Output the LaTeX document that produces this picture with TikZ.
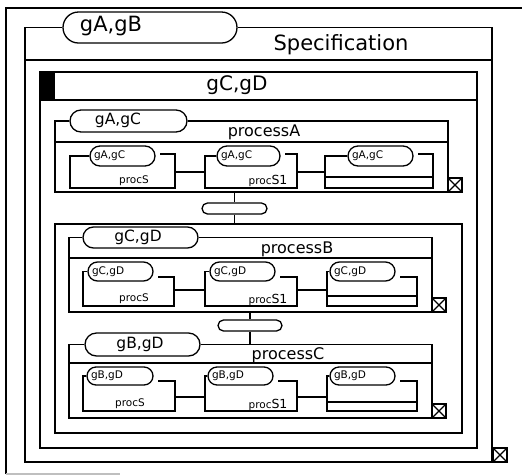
\documentclass[tikz,border=0pt]{standalone}
\usepackage{fontspec}
\setmainfont{DejaVu Sans}
\usetikzlibrary{shapes.misc}
\tikzset{
  pill/.style={draw, rounded rectangle, inner sep=0pt, fill=white},
  xbox/.style={draw, minimum size=14pt, inner sep=0pt, fill=white,
    path picture={\draw (path picture bounding box.south west) -- (path picture bounding box.north east)
                        (path picture bounding box.north west) -- (path picture bounding box.south east);}},
  bigtxt/.style={font=\fontsize{21}{21}\selectfont, inner sep=0pt},
  hdtxt/.style={font=\fontsize{20}{20}\selectfont, inner sep=0pt},
  midtxt/.style={font=\fontsize{16}{16}\selectfont, inner sep=0pt},
  pilltxt/.style={font=\fontsize{15.5}{15.5}\selectfont, inner sep=0pt},
  smalltxt/.style={font=\fontsize{10.5}{10.5}\selectfont, inner sep=0pt},
}
% pill: name, x0, x1, y0, y1
\newcommand\mkpill[5]{%
  \node[pill, minimum width={(#3-#2)*1pt}, minimum height={(#5-#4)*1pt}] (#1) at ({(#2+#3)/2},{(#4+#5)/2}) {};}
% sub process: name, L, R, pill x0, pill x1, label ; uses \rPT \rPB \rBot \rCon \rRT
\newcommand\subproc[6]{%
  \mkpill{#1}{#4}{#5}{\rPT}{\rPB}
  \node[smalltxt, anchor=west] at ([xshift=4pt]#1.west) {#6};
  \draw (#1.west) -- (#2,{(\rPT+\rPB)/2}) -- (#2,\rBot) -- (#3,\rBot) -- (#3,\rRT) -- ({#5+5},\rRT);
  \coordinate (#1-l) at (#2,\rCon);
  \coordinate (#1-r) at (#3,\rCon);}
\begin{document}
\begin{tikzpicture}[x=1pt,y=-1pt, line width=1.3pt, line join=miter]
\useasboundingbox (0,0) rectangle (522,475);
% outer page frame
\coordinate (o1) at (6,474);
\coordinate (o2) at (6,8);
\coordinate (o3) at (522,8);
\draw (o1) -- (o2) -- (o3);
\draw[gray!50] (o1) -- (120,474);

% Specification
\mkpill{pAB}{63}{237}{12}{43}
\node[bigtxt] at (111,26) {gA,gB};
\draw (pAB.west) -- (25,27.5) -- (25,462) -- (492,462) -- (492,27.5) -- (pAB.east);
\draw (25,60) -- (492,60);
\node[bigtxt] at (341,45) {Specification};
\node[xbox] (xS) at (500,455) {};

% gC,gD block
\draw (40,72) rectangle (477,448);
\fill (40,72) rectangle (55,100);
\draw (40,100) -- (477,100);
\node[hdtxt] at (237,85) {gC,gD};

% processA
\mkpill{pAC}{70}{187}{110}{132}
\node[pilltxt] at (118,120) {gA,gC};
\draw (pAC.west) -- (55,121) -- (55,192) -- (448,192) -- (448,121) -- (pAC.east);
\draw (55,142) -- (448,142);
\node[midtxt] at (264,132) {processA};
\node[xbox] (xA) at (455,185) {};
\def\rPT{146}\def\rPB{166}\def\rBot{188}\def\rCon{172}\def\rRT{154}
\subproc{a1}{70}{175}{90}{155}{gA,gC}
\subproc{a2}{205}{297}{217}{280}{gA,gC}
\subproc{a3}{325}{433}{348}{413}{gA,gC}
\draw (325,177) -- (433,177);
\node[smalltxt] at (134,181) {procS};
\node[smalltxt] at (268,181) {proc{\fontsize{12.5}{12.5}\selectfont S1}};
\draw (a1-r) -- (a2-l);
\draw (a2-r) -- (a3-l);

% connector A -> container
\mkpill{c1}{202}{267}{203}{214}
\coordinate (c1t) at (234.5,192);
\coordinate (c1b) at (234.5,224);
\draw (c1t) -- (c1.north);
\draw (c1.south) -- (c1b);

% container of B and C
\draw (55,224) rectangle (462,433);

% processB
\mkpill{pCD}{83}{198}{227}{248}
\node[pilltxt] at (138,237) {gC,gD};
\draw (pCD.west) -- (69,237.5) -- (69,312) -- (432,312) -- (432,237.5) -- (pCD.east);
\draw (69,258) -- (432,258);
\node[midtxt] at (297,249) {processB};
\node[xbox] (xB) at (439,305) {};
\def\rPT{262}\def\rPB{281}\def\rBot{306}\def\rCon{290}\def\rRT{277}
\subproc{b1}{83}{174}{88}{153}{gC,gD}
\subproc{b2}{205}{297}{210}{275}{gC,gD}
\subproc{b3}{327}{417}{330}{395}{gC,gD}
\draw (327,296) -- (417,296);
\node[smalltxt] at (134,299) {procS};
\node[smalltxt] at (268,300) {proc{\fontsize{12.5}{12.5}\selectfont S1}};
\draw (b1-r) -- (b2-l);
\draw (b2-r) -- (b3-l);

% connector B -> C
\mkpill{c2}{218}{282}{320}{331}
\coordinate (c2t) at (250,312);
\coordinate (c2b) at (250,344.5);
\draw (c2t) -- (c2.north);
\draw (c2.south) -- (c2b);

% processC
\mkpill{pBD}{85}{200}{333}{356}
\node[pilltxt] at (140,344) {gB,gD};
\draw (pBD.west) -- (69,344.5) -- (69,418) -- (432,418) -- (432,344.5) -- (pBD.east);
\draw (69,363) -- (432,363);
\node[midtxt] at (288,355) {processC};
\node[xbox] (xC) at (439,411) {};
\def\rPT{367}\def\rPB{385}\def\rBot{411}\def\rCon{397}\def\rRT{381}
\subproc{d1}{83}{175}{87}{153}{gB,gD}
\subproc{d2}{205}{297}{208}{273}{gB,gD}
\subproc{d3}{327}{417}{330}{395}{gB,gD}
\draw (327,402) -- (417,402);
\node[smalltxt] at (130,404) {procS};
\node[smalltxt] at (268,405) {proc{\fontsize{12.5}{12.5}\selectfont S1}};
\draw (d1-r) -- (d2-l);
\draw (d2-r) -- (d3-l);
\end{tikzpicture}
\end{document}
